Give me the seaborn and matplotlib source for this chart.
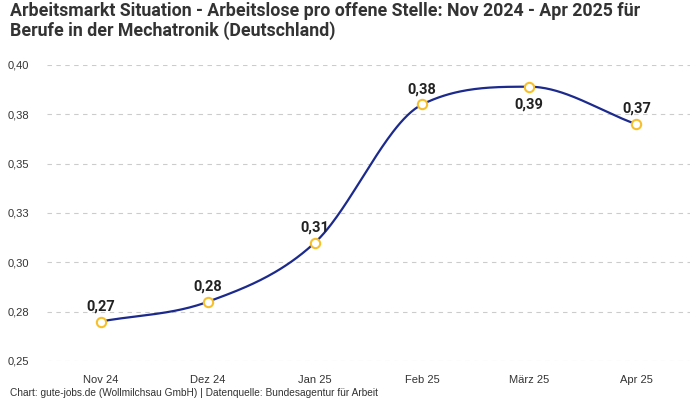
import numpy as np
import pandas as pd
import matplotlib
matplotlib.use("Agg")
import matplotlib.pyplot as plt
import seaborn as sns
from matplotlib.ticker import FuncFormatter

months = ["Nov 24", "Dez 24", "Jan 25", "Feb 25", "März 25", "Apr 25"]
values = [0.270, 0.280, 0.310, 0.380, 0.389, 0.370]
labels = ["0,27", "0,28", "0,31", "0,38", "0,39", "0,37"]
label_below = [False, False, False, False, True, False]
yticks = [0.25, 0.275, 0.30, 0.325, 0.35, 0.375, 0.40]

title = ("Arbeitsmarkt Situation - Arbeitslose pro offene Stelle: Nov 2024 - Apr 2025 für\n"
         "Berufe in der Mechatronik (Deutschland)")
footer = "Chart: gute-jobs.de (Wollmilchsau GmbH) | Datenquelle: Bundesagentur für Arbeit"

sns.set_theme(style="white")
plt.rcParams["font.family"] = ["Liberation Sans", "DejaVu Sans"]

def monotone(x, y, n=60):
    x = np.asarray(x, float); y = np.asarray(y, float)
    h = np.diff(x); d = np.diff(y) / h
    m = np.zeros_like(y)
    m[0] = d[0]; m[-1] = d[-1]
    for i in range(1, len(y) - 1):
        if d[i-1] * d[i] <= 0:
            m[i] = 0
        else:
            m[i] = (d[i-1] + d[i]) / 2
    for i in range(len(d)):
        if d[i] == 0:
            m[i] = m[i+1] = 0
        else:
            a = m[i] / d[i]; b = m[i+1] / d[i]
            s = a*a + b*b
            if s > 9:
                t = 3 / np.sqrt(s)
                m[i] = t*a*d[i]; m[i+1] = t*b*d[i]
    xs, ys = [], []
    for i in range(len(d)):
        t = np.linspace(0, 1, n)
        h00 = 2*t**3 - 3*t**2 + 1; h10 = t**3 - 2*t**2 + t
        h01 = -2*t**3 + 3*t**2; h11 = t**3 - t**2
        xs.append(x[i] + t*h[i])
        ys.append(h00*y[i] + h10*h[i]*m[i] + h01*y[i+1] + h11*h[i]*m[i+1])
    return np.concatenate(xs), np.concatenate(ys)

xpos = np.arange(len(months))
cx, cy = monotone(xpos, values)
curve = pd.DataFrame({"x": cx, "y": cy})
pts = pd.DataFrame({"x": xpos, "y": values})

fig = plt.figure(figsize=(7, 4), dpi=100)
ax = fig.add_axes([47/700, 1 - 361/400, 643/700, 296/400])

sns.lineplot(data=curve, x="x", y="y", ax=ax, color="#1b2a8c", linewidth=1.6, sort=False)
sns.scatterplot(data=pts, x="x", y="y", ax=ax, s=45, facecolor="white",
                edgecolor="#f7c02b", linewidth=1.5, zorder=5)

for xi, v, lab, below in zip(xpos, values, labels, label_below):
    if below:
        ax.annotate(lab, (xi, v), xytext=(0, -8), textcoords="offset points",
                    ha="center", va="top", fontsize=10.5, fontweight="bold",
                    color="#222222", family=["Roboto", "DejaVu Sans"])
    else:
        ax.annotate(lab, (xi, v), xytext=(0, 6), textcoords="offset points",
                    ha="center", va="bottom", fontsize=10.5, fontweight="bold",
                    color="#222222", family=["Roboto", "DejaVu Sans"])

ax.set_xlim(-0.5, len(months) - 0.5)
ax.set_ylim(0.25, 0.40)
ax.set_xticks(xpos)
ax.set_xticklabels(months)
ax.set_yticks(yticks)
ax.yaxis.set_major_formatter(FuncFormatter(lambda v, p: f"{v:.2f}".replace(".", ",")))
ax.tick_params(axis="y", length=0, pad=13, labelsize=8, labelcolor="#333333")
ax.tick_params(axis="x", length=0, pad=10, labelsize=8, labelcolor="#333333")
ax.grid(axis="y", color="#cccccc", linestyle=(0, (4, 4)), linewidth=0.8)
ax.grid(axis="x", visible=False)
for s in ax.spines.values():
    s.set_visible(False)
ax.set_xlabel("")
ax.set_ylabel("")

fig.text(10/700, 1 - 2/400, title, ha="left", va="top", fontsize=12.8, fontweight="bold",
         color="#333333", family=["Roboto", "DejaVu Sans"], linespacing=1.1)
fig.text(10/700, 1 - 393/400, footer, ha="left", va="center", fontsize=7.3, color="#333333")

fig.savefig("out.png", dpi=100)
